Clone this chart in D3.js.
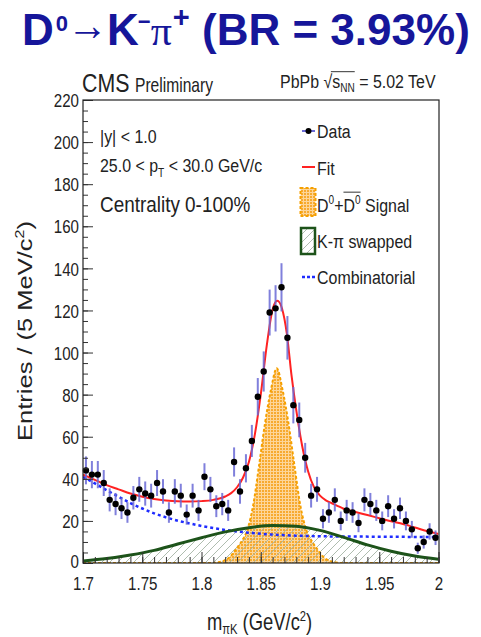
<!DOCTYPE html>
<html>
<head>
<meta charset="utf-8">
<script src="https://cdn.jsdelivr.net/npm/d3@7"></script>
<style>
  html, body { margin: 0; padding: 0; background: #fff; }
  svg { display: block; }
</style>
</head>
<body>
<svg id="chart" width="481" height="637"></svg>
<script>
// ---- Data: D0 -> K- pi+ invariant-mass fit, 25 < pT < 30 GeV/c ----
const massRange = [1.70, 2.00];
const binWidth = 0.005;               // 5 MeV bins
const counts = [
  44, 42, 42, 38, 30, 28, 26, 24, 31, 35,
  33, 32, 38, 34, 24, 34, 32, 23, 32, 25,
  41, 35, 27, 28, 25, 48, 34, 45, 58, 79,
  91, 119, 121, 131, 107, 75, 68, 50, 32, 35,
  21, 24, 30, 20, 25, 24, 19, 30, 28, 25,
  20, 27, 21, 26, 20, 16, 7, 10, 15, 12
];

// Total fit
const fitMass = [1.700, 1.710, 1.720, 1.730, 1.740, 1.750, 1.760, 1.770, 1.780, 1.790,
                 1.800, 1.810, 1.820, 1.825, 1.830, 1.835, 1.840, 1.845, 1.850, 1.855,
                 1.860, 1.864, 1.868, 1.872, 1.876, 1.880, 1.885, 1.890, 1.895, 1.900,
                 1.905, 1.910, 1.920, 1.930, 1.940, 1.950, 1.960, 1.970, 1.980, 1.990, 2.000];
const fitVals = [42, 39.5, 37, 35, 33, 31.5, 30.4, 29.7, 29.3, 29.2,
                 29.4, 30.0, 31.6, 33.2, 36, 40.5, 48, 61, 80, 103,
                 120.5, 124.6, 120.8, 109, 89, 72.5, 55.5, 43.5, 36, 32,
                 29.8, 28.4, 25.8, 24.2, 22.8, 21.3, 19.8, 18.5, 16.9, 15.2, 13.8];

// D0 + D0bar signal component
const sigMass = [1.700, 1.8085, 1.8135, 1.8185, 1.8235, 1.8285, 1.8335, 1.8385, 1.8435, 1.8485,
                 1.8535, 1.8585, 1.8635, 1.8685, 1.8735, 1.8785, 1.8835, 1.8885, 1.8935, 1.8985,
                 1.9035, 1.9085, 1.9135, 1.9185, 2.000];
const sigVals = [0, 0, 0.3, 1, 2.6, 6, 10, 15.5, 27, 46,
                 66, 82, 92.5, 82, 66, 46, 27, 15.5, 10, 6,
                 2.6, 1, 0.3, 0, 0];

// K-pi swapped component
const swapMass = [1.70, 1.72, 1.74, 1.76, 1.78, 1.80, 1.82, 1.84, 1.86, 1.88,
                  1.90, 1.92, 1.94, 1.96, 1.98, 2.00];
const swapVals = [1.0, 2.1, 3.8, 6.0, 9.0, 12.0, 14.8, 16.8, 17.8, 17.5,
                  15.5, 12.2, 8.6, 5.6, 3.3, 1.8];

// Combinatorial background
const combMass = [1.70, 1.71, 1.72, 1.73, 1.74, 1.75, 1.76, 1.77, 1.78, 1.79,
                  1.80, 1.81, 1.82, 1.83, 1.84, 1.85, 1.86, 1.88, 1.90, 1.95, 2.00];
const combVals = [41, 37.8, 34.6, 31.5, 28.5, 25.9, 23.6, 21.7, 20.1, 18.8,
                  17.6, 16.6, 15.7, 15.0, 14.4, 13.9, 13.5, 13.0, 12.7, 12.5, 12.3];

// Axis ticks
const xTicks = [1.70, 1.75, 1.80, 1.85, 1.90, 1.95, 2.00];
const xTickLabels = ["1.7", "1.75", "1.8", "1.85", "1.9", "1.95", "2"];
const xMinorTicks = d3.range(0, 31).map(i => 1.70 + i * 0.01);
const yTicks = [0, 20, 40, 60, 80, 100, 120, 140, 160, 180, 200, 220];
const yMinorTicks = d3.range(0, 45).map(i => i * 5);

// ---- Layout ----
const FONT = "'Liberation Sans', Arial, Helvetica, sans-serif";
const NARROW = 0.82;
const plot = { left: 83, right: 438.5, top: 100, bottom: 563 };

const svg = d3.select("#chart").attr("font-family", FONT);
const x = d3.scaleLinear().domain(massRange).range([plot.left, plot.right]);
const y = d3.scaleLinear().domain([0, 220]).range([plot.bottom, plot.top]);

const defs = svg.append("defs");
defs.append("clipPath").attr("id", "plotClip")
  .append("rect")
  .attr("x", plot.left).attr("y", plot.top)
  .attr("width", plot.right - plot.left).attr("height", plot.bottom - plot.top);

// Orange dotted-grid fill for the signal
const pSig = defs.append("pattern").attr("id", "sigFill")
  .attr("patternUnits", "userSpaceOnUse").attr("width", 3).attr("height", 3);
pSig.append("rect").attr("width", 3).attr("height", 3).attr("fill", "#f7aa30");
pSig.append("rect").attr("width", 3).attr("height", 1).attr("fill", "#fdd699");
pSig.append("rect").attr("width", 1).attr("height", 3).attr("fill", "#fdd699");

// Diagonal hatch for the swapped component
const pHatch = defs.append("pattern").attr("id", "hatch")
  .attr("patternUnits", "userSpaceOnUse").attr("width", 8).attr("height", 8);
pHatch.append("path")
  .attr("d", "M-1,1 L1,-1 M0,8 L8,0 M7,9 L9,7")
  .attr("stroke", "#a6b6a6").attr("stroke-width", 0.9);

// ---- Curves ----
const curves = svg.append("g").attr("clip-path", "url(#plotClip)");

const zip = (ms, vs) => ms.map((m, i) => [m, vs[i]]);
const area = d3.area().x(d => x(d[0])).y0(y(0)).y1(d => y(d[1])).curve(d3.curveMonotoneX);
const line = d3.line().x(d => x(d[0])).y(d => y(d[1])).curve(d3.curveMonotoneX);

const sigData = zip(sigMass, sigVals);
const swapData = zip(swapMass, swapVals);
const combData = zip(combMass, combVals);
const fitData = zip(fitMass, fitVals);

curves.append("path").attr("d", area(sigData)).attr("fill", "url(#sigFill)");
curves.append("path").attr("d", area(swapData)).attr("fill", "url(#hatch)");
curves.append("path").attr("d", line(sigData))
  .attr("fill", "none").attr("stroke", "#f5a000").attr("stroke-width", 2)
  .attr("stroke-dasharray", "3,2");
curves.append("path").attr("d", line(combData))
  .attr("fill", "none").attr("stroke", "#1f2cff").attr("stroke-width", 2.5)
  .attr("stroke-dasharray", "3,3");
curves.append("path").attr("d", line(swapData))
  .attr("fill", "none").attr("stroke", "#1d531a").attr("stroke-width", 3);
curves.append("path").attr("d", line(fitData))
  .attr("fill", "none").attr("stroke", "#ff2222").attr("stroke-width", 2);

// ---- Data points ----
const points = counts.map((n, i) => ({ m: massRange[0] + (i + 0.5) * binWidth, n }));
const pts = svg.append("g");
pts.selectAll("line.err").data(points).join("line")
  .attr("class", "err")
  .attr("x1", d => x(d.m)).attr("x2", d => x(d.m))
  .attr("y1", d => y(d.n - Math.sqrt(d.n))).attr("y2", d => y(d.n + Math.sqrt(d.n)))
  .attr("stroke", "#6a6ad6").attr("stroke-width", 2).attr("opacity", 0.85);
pts.selectAll("circle").data(points).join("circle")
  .attr("cx", d => x(d.m)).attr("cy", d => y(d.n)).attr("r", 3.2).attr("fill", "#000");

// ---- Axes ----
const gx = svg.append("g").attr("transform", `translate(0,${plot.bottom})`)
  .call(d3.axisBottom(x).tickValues(xTicks).tickFormat((d, i) => xTickLabels[i])
    .tickSize(-11).tickPadding(0));
const gxm = svg.append("g").attr("transform", `translate(0,${plot.bottom})`)
  .call(d3.axisBottom(x).tickValues(xMinorTicks).tickFormat("").tickSize(-6));
const gy = svg.append("g").attr("transform", `translate(${plot.left},0)`)
  .call(d3.axisLeft(y).tickValues(yTicks).tickSize(-10).tickPadding(0));
const gym = svg.append("g").attr("transform", `translate(${plot.left},0)`)
  .call(d3.axisLeft(y).tickValues(yMinorTicks).tickFormat("").tickSize(-5));

[gx, gxm, gy, gym].forEach(g => {
  g.select(".domain").remove();
  g.selectAll(".tick line").attr("stroke", "#333").attr("stroke-width", 1);
  g.attr("font-family", FONT).attr("font-size", 19);
});
gx.selectAll(".tick text")
  .attr("y", 0).attr("dy", null).attr("fill", "#222")
  .attr("transform", `translate(0,27) scale(${NARROW * 0.97},1)`);
gy.selectAll(".tick text")
  .attr("x", 0).attr("dy", "0.35em").attr("fill", "#222")
  .attr("transform", d => `translate(-4,${d === 0 ? -2 : 0}) scale(${NARROW * 0.97},1)`);

// Frame
svg.append("rect")
  .attr("x", plot.left).attr("y", plot.top)
  .attr("width", plot.right - plot.left + 0.5).attr("height", plot.bottom - plot.top)
  .attr("fill", "none").attr("stroke", "#222").attr("stroke-width", 1.2);

// ---- Text helpers ----
function narrowText(xp, yp, size, sx = NARROW, anchor = "start") {
  const g = svg.append("g").attr("transform", `translate(${xp},${yp}) scale(${sx},1)`);
  const t = g.append("text").attr("font-size", size).attr("text-anchor", anchor).attr("fill", "#222");
  return { g, t };
}
function span(t, str, opts = {}) {
  const s = t.append("tspan").text(str);
  Object.entries(opts).forEach(([k, v]) => s.attr(k, v));
  return s;
}

// Headline: decay channel and branching ratio
{
  const blue = "#16169a";
  const t1 = svg.append("text").attr("x", 22).attr("y", 45)
    .attr("font-size", 44).attr("font-weight", "bold").attr("fill", blue);
  span(t1, "D");
  span(t1, "0", { "font-size": 22, dy: -14, dx: 2 });

  // Long reaction arrow: one glyph stretched horizontally to 41 px
  const ag = svg.append("g");
  const arrow = ag.append("text").attr("x", 0).attr("y", 0)
    .attr("font-size", 44).attr("fill", blue).text("\u2192");
  const w = arrow.node().getComputedTextLength();
  const sxA = 41 / w;
  ag.attr("transform", `translate(67,40) scale(${sxA},1)`);

  const t2 = svg.append("text").attr("x", 107).attr("y", 45)
    .attr("font-size", 44).attr("font-weight", "bold").attr("fill", blue);
  span(t2, "K");
  span(t2, "\u2212", { "font-size": 22, dy: -16, dx: -1 });
  span(t2, "\u03c0", { "font-size": 42, "font-weight": "normal", "font-family": "'Liberation Serif', 'DejaVu Serif', serif", dy: 16, dx: 0 });
  span(t2, "+", { "font-size": 29, dy: -18, dx: 1 });
  span(t2, " (BR = 3.93%)", { dy: 18 });
}

// CMS label and collision system
{
  const a = narrowText(82, 92, 26, 0.82);
  span(a.t, "CMS");
  const b = narrowText(135, 92, 20, 0.78);
  span(b.t, "Preliminary");

  const c = narrowText(280, 88, 19, 0.84);
  span(c.t, "PbPb ");
  span(c.t, "\u221a");
  span(c.t, "s");
  span(c.t, "NN", { "font-size": 12, dy: 4 });
  span(c.t, " = 5.02 TeV", { dy: -4 });
  const node = c.t.node();
  const r = node.getExtentOfChar(5), e = node.getExtentOfChar(8);
  c.g.append("line")
    .attr("x1", r.x + r.width * 0.85).attr("x2", e.x + e.width)
    .attr("y1", r.y + 1).attr("y2", r.y + 1)
    .attr("stroke", "#222").attr("stroke-width", 1);
}

// Selection cuts
{
  const a = narrowText(100, 143, 19, 0.84);
  span(a.t, "|y| < 1.0");
  const b = narrowText(100, 172, 19, 0.84);
  span(b.t, "25.0 < p");
  span(b.t, "T", { "font-size": 12, dy: 5 });
  span(b.t, " < 30.0 GeV/c", { dy: -5 });
  const c = narrowText(100, 212, 22, 0.86);
  span(c.t, "Centrality 0-100%");
}

// ---- Legend ----
const legend = svg.append("g");
legend.append("line").attr("x1", 302).attr("x2", 315).attr("y1", 131).attr("y2", 131)
  .attr("stroke", "#6a6ad6").attr("stroke-width", 2);
legend.append("circle").attr("cx", 308.5).attr("cy", 131).attr("r", 3).attr("fill", "#000");
legend.append("line").attr("x1", 302).attr("x2", 315).attr("y1", 167).attr("y2", 167)
  .attr("stroke", "#ff2222").attr("stroke-width", 2);
legend.append("rect").attr("x", 300.5).attr("y", 188).attr("width", 15).attr("height", 28)
  .attr("fill", "url(#sigFill)").attr("stroke", "#f5a000").attr("stroke-width", 2)
  .attr("stroke-dasharray", "3,2");
legend.append("rect").attr("x", 301).attr("y", 228).attr("width", 14).attr("height", 26)
  .attr("fill", "url(#hatch)").attr("stroke", "#1d531a").attr("stroke-width", 2.5);
legend.append("line").attr("x1", 302).attr("x2", 315).attr("y1", 277).attr("y2", 277)
  .attr("stroke", "#1f2cff").attr("stroke-width", 2.5).attr("stroke-dasharray", "3,2");

{
  const lx = 317, sx = 0.84, fs = 19;
  span(narrowText(lx, 138, fs, sx).t, "Data");
  span(narrowText(lx, 175, fs, sx).t, "Fit");
  const s = narrowText(lx, 212, fs, sx);
  span(s.t, "D");
  span(s.t, "0", { "font-size": 12, dy: -8 });
  span(s.t, "+", { dy: 8 });
  span(s.t, "D");
  span(s.t, "0", { "font-size": 12, dy: -8 });
  span(s.t, " Signal", { dy: 8 });
  const n = s.t.node();
  const d = n.getExtentOfChar(3), z = n.getExtentOfChar(4);
  s.g.append("line")
    .attr("x1", d.x).attr("x2", z.x + z.width)
    .attr("y1", Math.min(d.y, z.y) - 1).attr("y2", Math.min(d.y, z.y) - 1)
    .attr("stroke", "#222").attr("stroke-width", 1);
  span(narrowText(lx, 248, fs, sx).t, "K-\u03c0 swapped");
  span(narrowText(lx, 284, fs, sx).t, "Combinatorial");
}

// ---- Axis titles ----
{
  const a = narrowText(207, 630, 23, 0.8);
  span(a.t, "m");
  span(a.t, "\u03c0K", { "font-size": 14, dy: 4 });
  span(a.t, " (GeV/c", { dy: -4 });
  span(a.t, "2", { "font-size": 14, dy: -9 });
  span(a.t, ")", { dy: 9 });
}
{
  const g = svg.append("g").attr("transform", "translate(32,331) scale(0.8,1) rotate(-90)");
  const t = g.append("text").attr("font-size", 25.5).attr("text-anchor", "middle").attr("fill", "#222");
  span(t, "Entries / (5 MeV/c");
  span(t, "2", { "font-size": 16, dy: -10 });
  span(t, ")", { dy: 10 });
}
</script>
</body>
</html>
